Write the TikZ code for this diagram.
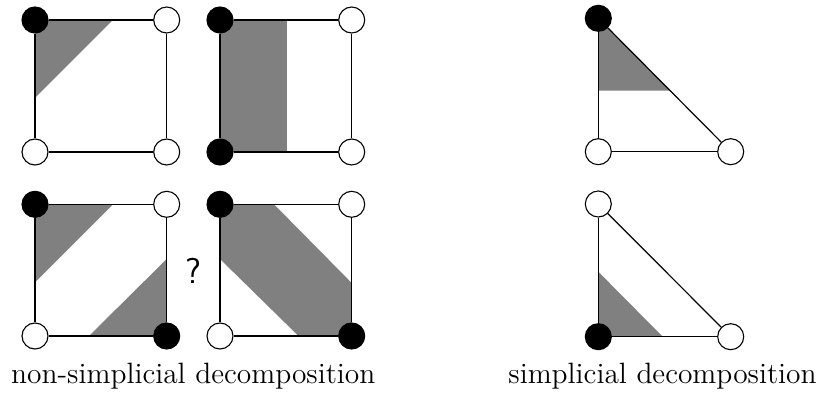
\documentclass[tikz,border=0pt]{standalone}
\usepackage{fontspec}
\newfontfamily\lmtwelve{lmroman12-regular.otf}
\begin{document}
\begin{tikzpicture}[x=1pt,y=-1pt,
  edge/.style={line width=1.2pt,black},
  shade/.style={fill=black!50,draw=none},
  bv/.style={circle,fill=black,draw=black,line width=1.1pt,minimum size=26pt,inner sep=0pt},
  wv/.style={circle,fill=white,draw=black,line width=1.1pt,minimum size=26pt,inner sep=0pt},
  lbl/.style={anchor=base,inner sep=0pt,font=\lmtwelve\fontsize{29.4}{34}\selectfont}]
\useasboundingbox (0,0) rectangle (822,403);
% shaded regions
\fill[shade] (35,20) -- (113,20) -- (35,98) -- cycle;
\fill[shade] (220,20) rectangle (286.5,152);
\fill[shade] (35,204.3) -- (113,204.3) -- (35,282.5) -- cycle;
\fill[shade] (166.7,336) -- (89,336) -- (166.7,259) -- cycle;
\fill[shade] (220,204.3) -- (274,204.3) -- (351.7,283) -- (351.7,336) -- (298.5,336) -- (220,259) -- cycle;
\fill[shade] (598.3,18.3) -- (598.3,90.7) -- (670,90.7) -- cycle;
\fill[shade] (598.3,336.7) -- (598.3,271.7) -- (662.7,336.7) -- cycle;
% vertices
\node[bv] (a1) at (35,20) {};
\node[wv] (b1) at (166.7,20) {};
\node[wv] (c1) at (35,152) {};
\node[wv] (d1) at (166.7,152) {};
\node[bv] (a2) at (220,20) {};
\node[wv] (b2) at (351.7,20) {};
\node[bv] (c2) at (220,152) {};
\node[wv] (d2) at (351.7,152) {};
\node[bv] (a3) at (35,204.3) {};
\node[wv] (b3) at (166.7,204.3) {};
\node[wv] (c3) at (35,336) {};
\node[bv] (d3) at (166.7,336) {};
\node[bv] (a4) at (220,204.3) {};
\node[wv] (b4) at (351.7,204.3) {};
\node[wv] (c4) at (220,336) {};
\node[bv] (d4) at (351.7,336) {};
\node[bv] (t1) at (598.3,18.3) {};
\node[wv] (l1) at (598.3,151.7) {};
\node[wv] (r1) at (730.7,151.7) {};
\node[wv] (t2) at (598.3,204) {};
\node[bv] (l2) at (598.3,336.7) {};
\node[wv] (r2) at (730.7,336.7) {};
% edges
\foreach \i in {1,2,3,4} {
  \draw[edge] (a\i) -- (b\i);
  \draw[edge] (b\i) -- (d\i);
  \draw[edge] (d\i) -- (c\i);
  \draw[edge] (c\i) -- (a\i);
}
\foreach \i in {1,2} {
  \draw[edge] (t\i) -- (l\i);
  \draw[edge] (l\i) -- (r\i);
  \draw[edge] (r\i) -- (t\i);
}
% labels
\node[inner sep=0pt,font=\sffamily\fontsize{36}{40}\selectfont] (q) at (193,271) {?};
\node[lbl] (nsd) at (193.3,383) {non-simplicial decomposition};
\node[lbl] (sd) at (662.5,383) {simplicial decomposition};
\end{tikzpicture}
\end{document}
